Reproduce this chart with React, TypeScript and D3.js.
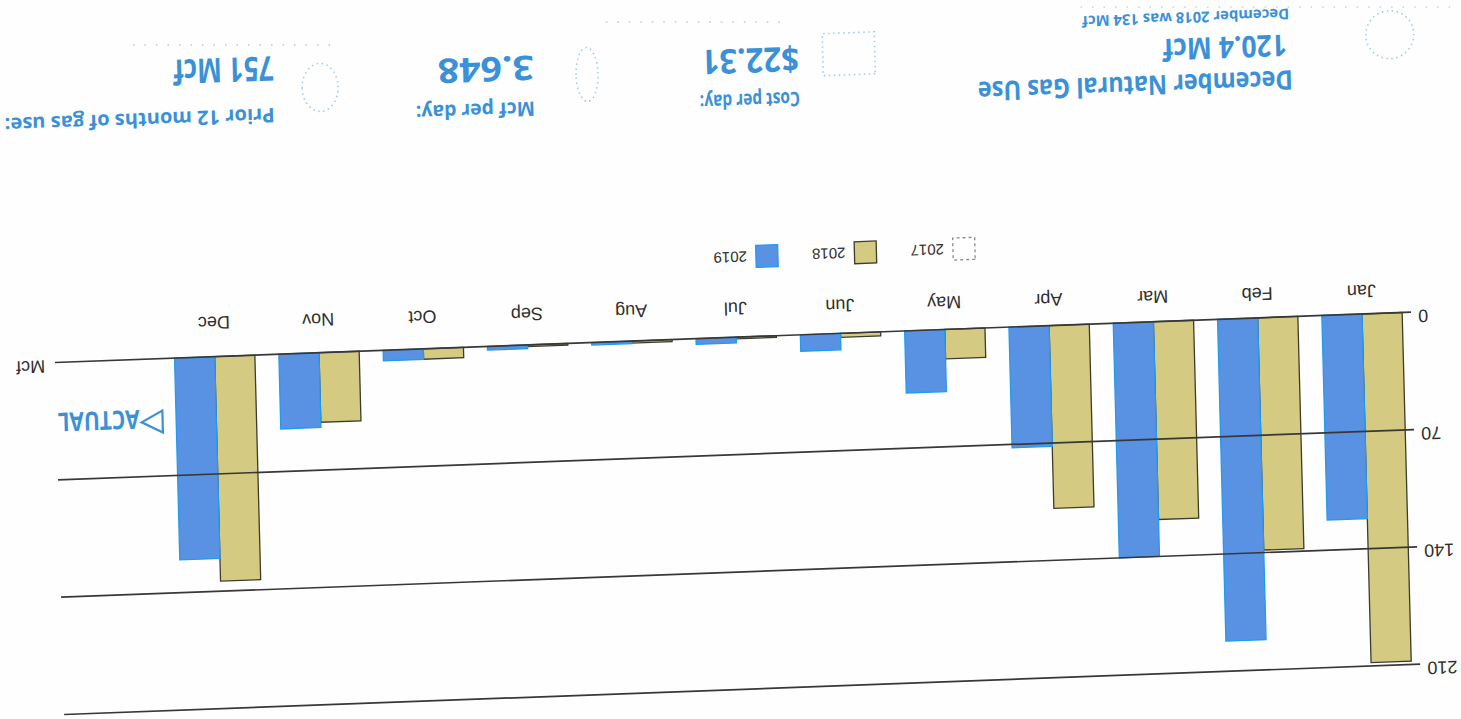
import * as d3 from "d3";

// Scanned gas-use bill chart: the page lies upside down and slightly tilted.
const months = ["Jan", "Feb", "Mar", "Apr", "May", "Jun", "Jul", "Aug", "Sep", "Oct", "Nov", "Dec"];
const use2018 = [208, 138.5, 118, 109, 17.5, 2.4, 1, 1.2, 1, 6.2, 41.5, 134];
const use2019 = [122, 192, 140, 72, 37, 9.8, 3.4, 1.5, 2.2, 6.3, 44.6, 120.4];
const yTicks = [0, 70, 140, 210];
const legendYears = ["2017", "2018", "2019"];

const W = 1461;
const H = 719;
const BLUE = "#5a92e3";
const BLUE_EDGE = "#1f9bef";
const KHAKI = "#d4ca82";
const KHAKI_EDGE = "#3d3d2c";
const INK = "#2e2e2e";
const HEAD = "#3b91d8";
const AXIS_FONT = "'Liberation Sans', Arial, sans-serif";
const HEAD_FONT = "'Open Sans', 'DejaVu Sans', sans-serif";

// original (upright) page frame -> scanned picture
const PAGE = "matrix(-1 0.0371 -0.026 -1 1472.4 710.3)";

export default function App() {
  const x = d3
    .scaleBand<string>()
    .domain(months)
    .range([47.85, 1299.45])
    .paddingInner(0.23)
    .paddingOuter(0.115);
  const sub = d3.scaleBand<string>().domain(["2018", "2019"]).range([0, x.bandwidth()]);
  const y = d3.scaleLinear().domain([0, 210]).range([400, 48]);

  const series = [
    { year: "2018", values: use2018, fill: KHAKI, stroke: KHAKI_EDGE },
    { year: "2019", values: use2019, fill: BLUE, stroke: BLUE_EDGE },
  ];

  const legendFill: Record<string, string> = { "2017": "#ffffff", "2018": KHAKI, "2019": BLUE };
  const legendStroke: Record<string, string> = { "2017": "#8a8a8a", "2018": KHAKI_EDGE, "2019": BLUE_EDGE };

  // the paper was not flat: the month row sits a little off the baseline's slope
  const labelY = (i: number) => 429 + (i * 11) / (months.length - 1);

  return (
    <div style={{ position: "fixed", left: 0, top: 0, width: W, height: H, background: "#fff" }}>
      <svg width={W} height={H} viewBox={`0 0 ${W} ${H}`}>
        <rect width={W} height={H} fill="#fefefe" />
        <g transform={PAGE}>
          {/* bars */}
          {series.map((s) =>
            months.map((m, i) => (
              <rect
                key={`${s.year}-${m}`}
                x={(x(m) ?? 0) + (sub(s.year) ?? 0)}
                y={y(s.values[i])}
                width={sub.bandwidth()}
                height={y(0) - y(s.values[i])}
                fill={s.fill}
                stroke={s.stroke}
                strokeWidth={1.3}
              />
            )),
          )}

          {/* gridlines + y labels */}
          {yTicks.map((t) => (
            <g key={t}>
              <line x1={51} x2={1407} y1={y(t)} y2={y(t)} stroke="#383838" strokeWidth={1.7} />
              <text x={44} y={y(t) + 2} textAnchor="end" fontFamily={AXIS_FONT} fontSize={18} fill={INK}>
                {t}
              </text>
            </g>
          ))}
          <text x={1417} y={402.5} fontFamily={AXIS_FONT} fontSize={18} fill={INK}>
            Mcf
          </text>

          {/* month labels */}
          {months.map((m, i) => (
            <text
              key={m}
              x={(x(m) ?? 0) + x.bandwidth() / 2}
              y={labelY(i)}
              textAnchor="middle"
              fontFamily={AXIS_FONT}
              fontSize={18}
              fill={INK}
            >
              {m}
            </text>
          ))}

          {/* legend */}
          {legendYears.map((yr, i) => (
            <g key={yr} transform={`translate(${485 + i * 98.5}, 469)`}>
              <rect
                width={22}
                height={22}
                fill={legendFill[yr]}
                stroke={legendStroke[yr]}
                strokeWidth={1.3}
                strokeDasharray={yr === "2017" ? "3 3" : undefined}
              />
              <text x={31} y={16.5} fontFamily={AXIS_FONT} fontSize={15} fill={INK}>
                {yr}
              </text>
            </g>
          ))}

          {/* ACTUAL marker */}
          <path d="M1301,326 L1322,337 L1301,348 Z" fill="#ffffff" stroke={HEAD} strokeWidth={2.2} />
          <text
            x={1324}
            y={349.5}
            fontFamily={HEAD_FONT}
            fontWeight={700}
            fontSize={26}
            fill={HEAD}
            textLength={82}
            lengthAdjust="spacingAndGlyphs"
          >
            ACTUAL
          </text>

          {/* faint header icons and dotted rules from the scan */}
          <g fill="none" stroke="#a3cbe9" strokeWidth={1.6} strokeDasharray="1.5 3.5">
            <circle cx={65} cy={678} r={24} />
            <rect x={580} y={658} width={52} height={42} />
            <ellipse cx={868} cy={668} rx={11} ry={27} />
            <ellipse cx={1135} cy={665} rx={18} ry={24} />
          </g>
          <g fill="none" stroke="#c6c6c6" strokeWidth={1.3} strokeDasharray="1.5 10">
            <line x1={1124} x2={1324} y1={707} y2={714.4} />
            <line x1={674} x2={854} y1={713.3} y2={720} />
            <line x1={4} x2={374} y1={703.4} y2={717} />
          </g>

          {/* header blocks */}
          <g fontFamily={HEAD_FONT} fontWeight={700} fill={HEAD}>
            <text x={163} y={646} fontSize={27} textLength={315} lengthAdjust="spacingAndGlyphs">
              December Natural Gas Use
            </text>
            <text x={168} y={682} fontSize={30} textLength={124} lengthAdjust="spacingAndGlyphs">
              120.4 Mcf
            </text>
            <text x={165} y={708} fontSize={15} textLength={207} lengthAdjust="spacingAndGlyphs">
              December 2018 was 134 Mcf
            </text>

            <text x={656} y={643} fontSize={20} textLength={100} lengthAdjust="spacingAndGlyphs">
              Cost per day:
            </text>
            <text x={656} y={688} fontSize={34} textLength={97} lengthAdjust="spacingAndGlyphs">
              $22.31
            </text>

            <text x={921} y={643} fontSize={20} textLength={119} lengthAdjust="spacingAndGlyphs">
              Mcf per day:
            </text>
            <text x={921} y={689} fontSize={34} textLength={96} lengthAdjust="spacingAndGlyphs">
              3.648
            </text>

            <text x={1181} y={646} fontSize={20} textLength={270} lengthAdjust="spacingAndGlyphs">
              Prior 12 months of gas use:
            </text>
            <text x={1181} y={698} fontSize={34} textLength={100} lengthAdjust="spacingAndGlyphs">
              751 Mcf
            </text>
          </g>
        </g>
      </svg>
    </div>
  );
}
